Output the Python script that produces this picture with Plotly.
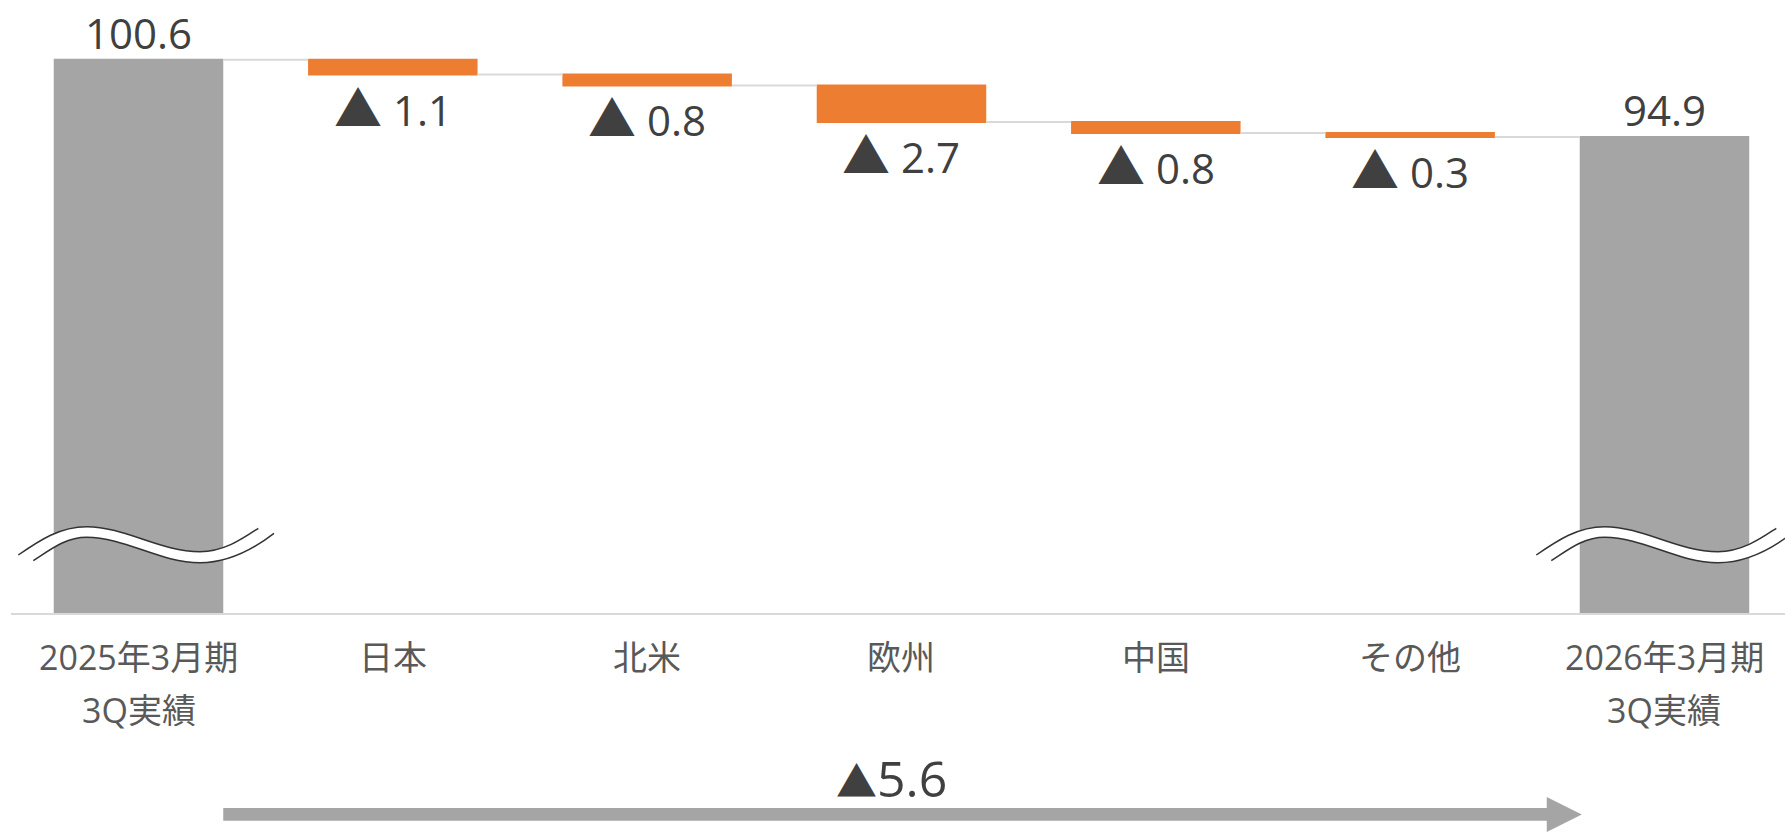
import plotly.graph_objects as go

# ---------------- data ----------------
CATEGORIES = ["2025年3月期<br>3Q実績", "日本", "北米", "欧州", "中国", "その他", "2026年3月期<br>3Q実績"]
START_VALUE = 100.6
REGION_DELTAS = [-1.1, -0.8, -2.7, -0.8, -0.3]
TOTAL_CHANGE = -5.6

# ---------------- layout constants ----------------
W, H = 1785, 835
M_L, M_R, M_T, M_B = 11, 0, 0, 222
PLOT_W = W - M_L - M_R
PLOT_H = H - M_T - M_B
X_RANGE = [-0.5013, 6.4739]
Y_RANGE = [59.80, 105.0]
GAP = 0.3335

GRAY = "#A5A5A5"
ORANGE = "#ED7D31"
TXT = "#404040"
CAT_TXT = "#595959"
FONT = "Open Sans, Noto Sans CJK JP, sans-serif"


def px_to_xu(dpx):
    return dpx * (X_RANGE[1] - X_RANGE[0]) / PLOT_W


def py_to_val(py):
    return Y_RANGE[1] - (py - M_T) * (Y_RANGE[1] - Y_RANGE[0]) / PLOT_H


def py_to_paper(py):
    return (M_T + PLOT_H - py) / PLOT_H


n = len(CATEGORIES)
x_idx = list(range(n))
measure = ["absolute"] + ["relative"] * len(REGION_DELTAS) + ["total"]
y_vals = [START_VALUE] + REGION_DELTAS + [0]

running = [START_VALUE]
for d in REGION_DELTAS:
    running.append(round(running[-1] + d, 1))
END_VALUE = running[-1]

fig = go.Figure()
fig.add_trace(go.Waterfall(
    x=x_idx, y=y_vals, measure=measure,
    totals=dict(marker=dict(color=GRAY, line=dict(width=0))),
    decreasing=dict(marker=dict(color=ORANGE, line=dict(width=0))),
    increasing=dict(marker=dict(color=ORANGE, line=dict(width=0))),
    connector=dict(line=dict(color="#D9D9D9", width=2), mode="between"),
    textinfo="none", hoverinfo="skip", showlegend=False,
))

annotations = []
# total labels
for xi, v in [(0, START_VALUE), (n - 1, END_VALUE)]:
    annotations.append(dict(x=xi, y=v, xref="x", yref="y", text=f"{v:.1f}",
                            showarrow=False, yanchor="bottom", yshift=-3,
                            font=dict(family=FONT, size=42, color=TXT)))
# delta labels below each bar
for i, d in enumerate(REGION_DELTAS):
    annotations.append(dict(x=i + 1, y=running[i + 1], xref="x", yref="y",
                            text=f"<span style='font-size:48px'>▲</span> {abs(d):.1f}",
                            showarrow=False, yanchor="top", yshift=2,
                            font=dict(family=FONT, size=42, color=TXT)))
# overall change label
annotations.append(dict(x=(n - 1) / 2, y=py_to_paper(778), xref="x", yref="paper",
                        text=f"<span style='font-size:41px'>▲</span>{abs(TOTAL_CHANGE):.1f}",
                        showarrow=False, yanchor="middle", xshift=-10,
                        font=dict(family=FONT, size=50, color=TXT)))
# category labels (two-line labels get wider line spacing, as in the original)
for xi, label in enumerate(CATEGORIES):
    for li, line in enumerate(label.split("<br>")):
        annotations.append(dict(x=xi, y=py_to_paper(657 + 53 * li), xref="x", yref="paper",
                                text=line, showarrow=False, yanchor="middle",
                                font=dict(family=FONT, size=34, color=CAT_TXT)))

shapes = []
# wavy axis-break marks on the two total bars
UPPER = [(-120.2, 555), (-98.5, 540), (-78.5, 526.7), (-51.8, 526.7),
         (-13.5, 526.7), (21.5, 551.7), (61.5, 551.7),
         (86.5, 551.7), (106.5, 537), (119.8, 528.3)]
LOWER = [(-105.2, 560.7), (-88.5, 550), (-73.5, 537.3), (-51.8, 537.3),
         (-13.5, 537.3), (21.5, 562.7), (61.5, 562.7),
         (89.5, 562.7), (116.5, 548), (135.5, 533.3)]


def pt(xc, shift, p):
    return f"{xc + px_to_xu(p[0] + shift):.5f},{py_to_val(p[1]):.5f}"


def bez(xc, shift, pts):
    s = "M " + pt(xc, shift, pts[0])
    for k in range(1, len(pts), 3):
        s += " C " + " ".join(pt(xc, shift, q) for q in pts[k:k + 3])
    return s


def bez_rev(xc, shift, pts):
    r = pts[::-1]
    s = ""
    for k in range(1, len(r), 3):
        s += " C " + " ".join(pt(xc, shift, q) for q in r[k:k + 3])
    return s


for xc, shift in [(0, 0), (n - 1, -8)]:
    fill_path = bez(xc, shift, UPPER) + " L " + pt(xc, shift, LOWER[-1]) + bez_rev(xc, shift, LOWER) + " Z"
    shapes.append(dict(type="path", xref="x", yref="y", path=fill_path,
                       fillcolor="white", line=dict(width=0)))
    for pts in (UPPER, LOWER):
        shapes.append(dict(type="path", xref="x", yref="y", path=bez(xc, shift, pts),
                           line=dict(color="#333333", width=1.5)))

# bottom arrow from first bar to last bar
half_w = (1 - GAP) / 2
x_start = 0 + half_w
x_tip = (n - 1) - half_w + px_to_xu(2)
x_head = x_tip - px_to_xu(35)
shapes.append(dict(type="rect", xref="x", yref="paper",
                   x0=x_start, x1=x_head + px_to_xu(1),
                   y0=py_to_paper(820.7), y1=py_to_paper(808),
                   fillcolor=GRAY, line=dict(width=0)))
shapes.append(dict(type="path", xref="x", yref="paper",
                   path=f"M {x_head},{py_to_paper(797)} L {x_tip},{py_to_paper(814.5)} L {x_head},{py_to_paper(832)} Z",
                   fillcolor=GRAY, line=dict(width=0)))

fig.update_layout(
    width=W, height=H,
    margin=dict(l=M_L, r=M_R, t=M_T, b=M_B, pad=0),
    paper_bgcolor="white", plot_bgcolor="white",
    waterfallgap=GAP,
    showlegend=False,
    font=dict(family=FONT),
    xaxis=dict(range=X_RANGE, tickvals=x_idx, showticklabels=False,
               showgrid=False, zeroline=False, showline=True,
               linecolor="#D9D9D9", linewidth=2, ticks="",
               fixedrange=True),
    yaxis=dict(range=Y_RANGE, visible=False, showgrid=False, zeroline=False,
               fixedrange=True),
    annotations=annotations,
    shapes=shapes,
)

fig.write_html("out.html")
